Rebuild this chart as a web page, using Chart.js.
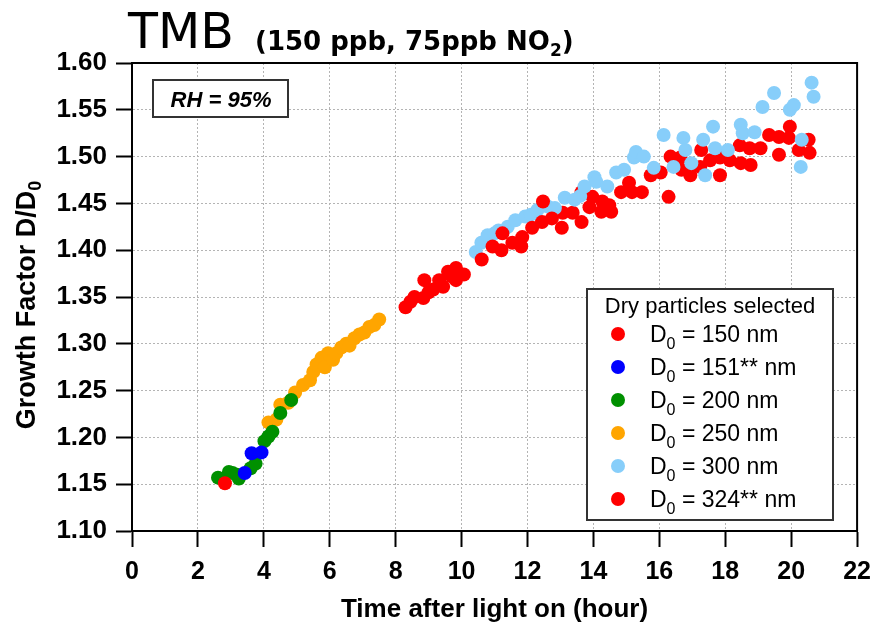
<!DOCTYPE html>
<html>
<head>
<meta charset="utf-8">
<script src="https://cdn.jsdelivr.net/npm/chart.js@4.4.1/dist/chart.umd.min.js"></script>
<style>
  body { margin: 0; background: #fff; }
</style>
</head>
<body>
<canvas id="chart" width="881" height="629"></canvas>
<script>
// Valores (tiempo en horas, factor de crecimiento D/D0)
const xTicks = [0, 2, 4, 6, 8, 10, 12, 14, 16, 18, 20, 22];
const yTicks = [1.10, 1.15, 1.20, 1.25, 1.30, 1.35, 1.40, 1.45, 1.50, 1.55, 1.60];

const labels = ['150', '151**', '200', '250', '300', '324**'];
const colores = ['#ff0000', '#0000ff', '#009000', '#ffa500', '#87cefa', '#ff0000'];

const t150 = [2.82, 8.30, 8.45, 8.57, 8.84, 8.87, 9.00, 9.14, 9.32, 9.44, 9.59, 9.70, 9.83, 9.83, 10.07, 10.61, 10.94, 11.21, 11.24, 11.54, 11.81, 11.84, 12.14, 12.44, 12.47, 12.74];
const g150 = [1.151, 1.339, 1.345, 1.350, 1.349, 1.368, 1.355, 1.358, 1.368, 1.361, 1.377, 1.372, 1.381, 1.368, 1.374, 1.390, 1.404, 1.400, 1.418, 1.408, 1.404, 1.414, 1.424, 1.430, 1.452, 1.434];

const t151 = [3.42, 3.63, 3.93];
const g151 = [1.162, 1.183, 1.184];

const t200 = [2.61, 2.94, 3.05, 3.18, 3.24, 3.60, 3.75, 4.02, 4.14, 4.26, 4.50, 4.83];
const g200 = [1.157, 1.163, 1.162, 1.160, 1.156, 1.167, 1.172, 1.196, 1.201, 1.206, 1.226, 1.240];

const t250 = [4.14, 4.38, 4.50, 4.74, 4.95, 5.19, 5.40, 5.50, 5.60, 5.75, 5.85, 5.95, 6.10, 6.20, 6.35, 6.50, 6.60, 6.75, 6.90, 7.05, 7.20, 7.35, 7.50];
const g250 = [1.216, 1.219, 1.235, 1.237, 1.248, 1.256, 1.261, 1.270, 1.278, 1.285, 1.275, 1.290, 1.283, 1.290, 1.296, 1.300, 1.298, 1.306, 1.310, 1.312, 1.318, 1.320, 1.326];

const t300 = [10.43, 10.60, 10.79, 11.00, 11.12, 11.40, 11.63, 11.93, 12.10, 12.30, 12.60, 12.83, 13.13, 13.43, 13.60, 13.73, 14.03, 14.09, 14.42, 14.69, 14.93, 15.23, 15.29, 15.53, 15.83, 16.13, 16.43, 16.73, 16.79, 16.97, 17.33, 17.39, 17.63, 17.69, 18.08, 18.47, 18.53, 18.89, 19.13, 19.48, 19.96, 20.08, 20.29, 20.32, 20.62, 20.68];
const g300 = [1.398, 1.408, 1.416, 1.418, 1.421, 1.425, 1.432, 1.436, 1.438, 1.443, 1.447, 1.445, 1.456, 1.454, 1.458, 1.468, 1.478, 1.473, 1.468, 1.483, 1.486, 1.499, 1.505, 1.500, 1.488, 1.523, 1.489, 1.520, 1.507, 1.493, 1.518, 1.480, 1.532, 1.509, 1.507, 1.534, 1.525, 1.526, 1.553, 1.568, 1.550, 1.555, 1.489, 1.518, 1.579, 1.564];

const t324 = [13.04, 13.07, 13.37, 13.64, 13.64, 13.88, 13.97, 14.24, 14.27, 14.48, 14.54, 14.84, 15.08, 15.17, 15.47, 15.74, 16.04, 16.28, 16.34, 16.64, 16.67, 16.94, 17.24, 17.27, 17.54, 17.84, 17.84, 18.14, 18.44, 18.47, 18.74, 18.77, 19.07, 19.33, 19.63, 19.63, 19.93, 19.96, 20.23, 20.53, 20.56];
const g324 = [1.424, 1.440, 1.440, 1.430, 1.462, 1.446, 1.457, 1.441, 1.452, 1.448, 1.441, 1.462, 1.472, 1.462, 1.462, 1.480, 1.483, 1.457, 1.500, 1.499, 1.486, 1.480, 1.489, 1.507, 1.496, 1.499, 1.480, 1.496, 1.512, 1.493, 1.509, 1.491, 1.509, 1.523, 1.521, 1.502, 1.520, 1.532, 1.507, 1.518, 1.504];

const series = [[t150, g150], [t151, g151], [t200, g200], [t250, g250], [t300, g300], [t324, g324]];

const fuenteEje = 'Liberation Sans, Arial, sans-serif';

// Dibuja texto con partes (para subindices)
function textoRico(ctx, x, y, partes, align) {
    let ancho = 0;
    partes.forEach(p => { ctx.font = p.font; ancho += ctx.measureText(p.t).width; });
    let cx = align === 'center' ? x - ancho / 2 : x;
    partes.forEach(p => {
        ctx.font = p.font;
        ctx.fillText(p.t, cx, y + (p.dy || 0));
        cx += ctx.measureText(p.t).width;
    });
}

const decoracion = {
    id: 'decoracion',
    afterDraw(chart) {
        const ctx = chart.ctx;
        const a = chart.chartArea;
        ctx.save();
        // marco superior y derecho
        ctx.strokeStyle = '#000';
        ctx.lineWidth = 2;
        ctx.beginPath();
        ctx.moveTo(a.left, a.top);
        ctx.lineTo(a.right, a.top);
        ctx.lineTo(a.right, a.bottom);
        ctx.stroke();

        ctx.fillStyle = '#000';
        ctx.textBaseline = 'alphabetic';
        ctx.textAlign = 'left';

        // titulo
        ctx.font = '49px "DejaVu Sans"';
        ctx.fillText('TMB', 128, 48);
        const fb = 'bold 26px "DejaVu Sans"';
        textoRico(ctx, 255, 50, [
            { t: '(150 ppb, 75ppb NO', font: fb },
            { t: '2', font: 'bold 17px "DejaVu Sans"', dy: 6 },
            { t: ')', font: fb }
        ], 'left');

        // titulo eje x
        textoRico(ctx, (a.left + a.right) / 2, 617, [
            { t: 'Time after light on (hour)', font: 'bold 26px ' + fuenteEje }
        ], 'center');

        // titulo eje y
        ctx.save();
        ctx.translate(35, (a.top + a.bottom) / 2 + 8);
        ctx.rotate(-Math.PI / 2);
        textoRico(ctx, 0, 0, [
            { t: 'Growth Factor D/D', font: 'bold 27px ' + fuenteEje },
            { t: '0', font: 'bold 18px ' + fuenteEje, dy: 6 }
        ], 'center');
        ctx.restore();

        // caja RH
        ctx.fillStyle = '#fff';
        ctx.fillRect(153, 80, 135, 37);
        ctx.strokeStyle = '#333';
        ctx.lineWidth = 2;
        ctx.strokeRect(153, 80, 135, 37);
        ctx.fillStyle = '#000';
        textoRico(ctx, 221, 107, [{ t: 'RH = 95%', font: 'italic bold 22px ' + fuenteEje }], 'center');

        // leyenda
        ctx.fillStyle = '#fff';
        ctx.fillRect(587, 289, 246, 231);
        ctx.strokeRect(587, 289, 246, 231);
        ctx.fillStyle = '#000';
        textoRico(ctx, 710, 313, [{ t: 'Dry particles selected', font: '22px ' + fuenteEje }], 'center');
        labels.forEach((lab, i) => {
            const y = 334 + i * 33;
            ctx.fillStyle = colores[i];
            ctx.beginPath();
            ctx.arc(618, y, 7, 0, Math.PI * 2);
            ctx.fill();
            ctx.fillStyle = '#000';
            textoRico(ctx, 650, y + 8, [
                { t: 'D', font: '23px ' + fuenteEje },
                { t: '0', font: '16px ' + fuenteEje, dy: 7 },
                { t: ' = ' + lab + ' nm', font: '23px ' + fuenteEje }
            ], 'left');
        });
        ctx.restore();
    }
};

const datasets = series.map((s, i) => ({
    label: labels[i],
    data: s[0].map((t, j) => ({ x: t, y: s[1][j] })),
    backgroundColor: colores[i],
    pointBackgroundColor: colores[i],
    pointBorderWidth: 0,
    pointRadius: 7,
    showLine: false
}));

const ctx = document.getElementById('chart').getContext('2d');
new Chart(ctx, {
    type: 'scatter',
    data: { datasets: datasets },
    options: {
        responsive: false,
        animation: false,
        devicePixelRatio: 1,
        layout: { padding: { top: 63, right: 15, left: 0, bottom: 0 } },
        plugins: {
            legend: { display: false },
            tooltip: { enabled: false }
        },
        scales: {
            x: {
                type: 'linear',
                min: xTicks[0],
                max: xTicks[xTicks.length - 1],
                afterFit: s => { s.height = 98; },
                afterBuildTicks: s => { s.ticks = xTicks.map(v => ({ value: v })); },
                ticks: {
                    color: '#000',
                    font: { family: fuenteEje, size: 25, weight: 'bold' },
                    padding: 10,
                    maxRotation: 0,
                    autoSkip: false
                },
                grid: { color: '#b4b4b4', lineWidth: 1, tickColor: '#000', tickWidth: 2, tickLength: 16 },
                border: { color: '#000', width: 2, dash: [2, 2] }
            },
            y: {
                type: 'linear',
                min: yTicks[0],
                max: yTicks[yTicks.length - 1],
                afterFit: s => { s.width = 132; },
                afterBuildTicks: s => { s.ticks = yTicks.map(v => ({ value: v })); },
                ticks: {
                    color: '#000',
                    font: { family: fuenteEje, size: 26, weight: 'bold' },
                    padding: 9,
                    autoSkip: false,
                    callback: v => v.toFixed(2)
                },
                grid: { color: '#b4b4b4', lineWidth: 1, tickColor: '#000', tickWidth: 2, tickLength: 16 },
                border: { color: '#000', width: 2, dash: [2, 2] }
            }
        }
    },
    plugins: [decoracion]
});
</script>
</body>
</html>
